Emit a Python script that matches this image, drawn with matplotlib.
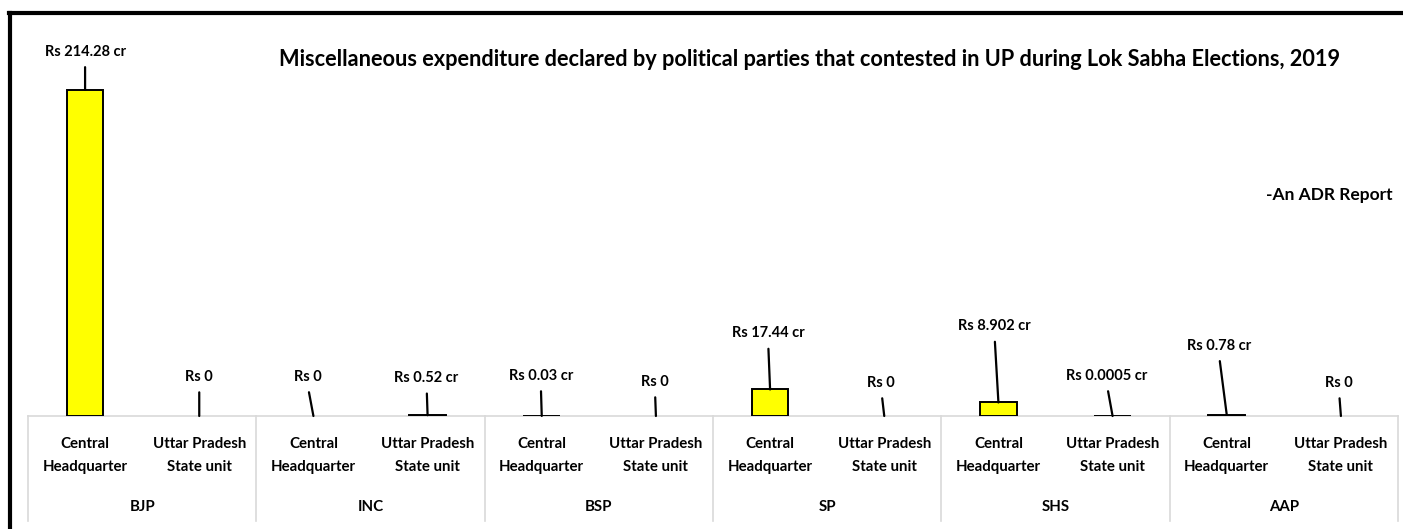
import matplotlib.pyplot as plt
from matplotlib.lines import Line2D

# data
parties = ['BJP', 'INC', 'BSP', 'SP', 'SHS', 'AAP']
units = ['Central\nHeadquarter', 'Uttar Pradesh\nState unit']
values = [214.28, 0, 0, 0.52, 0.03, 0, 17.44, 0, 8.902, 0.0005, 0.78, 0]
value_labels = ['Rs 214.28 cr', 'Rs 0', 'Rs 0', 'Rs 0.52 cr', 'Rs 0.03 cr', 'Rs 0',
                'Rs 17.44 cr', 'Rs 0', 'Rs 8.902 cr', 'Rs 0.0005 cr', 'Rs 0.78 cr', 'Rs 0']

# label offsets in pixels (dx, dy) from the top of each bar
label_offsets = [(0, 38), (0, 39), (-6, 39), (-1, 37), (-1, 40), (-1, 34),
                 (-2, 56), (-3, 33), (-4, 76), (-6, 40), (-8, 69), (-2, 33)]

plt.rcParams['font.family'] = ['Lato', 'DejaVu Sans']

W, H = 1403, 529
fig = plt.figure(figsize=(W / 100, H / 100), dpi=100)
ax = fig.add_axes([28 / W, (H - 416) / H, 1370 / W, (416 - 40) / H])

x = list(range(len(values)))
colors = ['yellow' if v > 0 else 'none' for v in values]
edges = ['black' if v > 0 else 'none' for v in values]
ax.bar(x, values, width=0.32, color=colors, edgecolor=edges, linewidth=1.4, zorder=3)

for i, (v, lab, off) in enumerate(zip(values, value_labels, label_offsets)):
    ax.annotate(lab, xy=(i, v), xytext=off, textcoords='offset pixels',
                ha='center', va='center', fontsize=10.5, fontweight='bold',
                arrowprops=dict(arrowstyle='-', color='black', lw=1.6,
                                relpos=(0.5, 0), shrinkA=4, shrinkB=0))

ax.set_xlim(-0.5, len(values) - 0.5)
ax.set_ylim(0, 247)
ax.set_yticks([])
ax.set_xticks(x)
ax.set_xticklabels(units * len(parties), fontsize=10.8, fontweight='bold', linespacing=1.85)
ax.tick_params(axis='x', length=0, pad=15)
for s in ['top', 'right', 'left']:
    ax.spines[s].set_visible(False)
ax.spines['bottom'].set_color('#d9d9d9')
ax.spines['bottom'].set_linewidth(1.2)

trans = ax.get_xaxis_transform()
for k in range(len(parties) + 1):
    ax.plot([2 * k - 0.5, 2 * k - 0.5], [0, -0.28], color='#d9d9d9', lw=1.2,
            transform=trans, clip_on=False)
for k, p in enumerate(parties):
    ax.text(2 * k + 0.5, -0.242, p, transform=trans, ha='center', va='center',
            fontsize=10.8, fontweight='bold')

fig.text(810 / W, 1 - 60 / H,
         'Miscellaneous expenditure declared by political parties that contested in UP during Lok Sabha Elections, 2019',
         ha='center', va='center', fontsize=15.7, fontweight='bold')
fig.text(1393 / W, 1 - 195 / H, '-An ADR Report', ha='right', va='center',
         fontsize=12.5, fontweight='bold')

# outer frame (top and left edges)
fig.add_artist(Line2D([9 / W, 1], [1 - 13 / H, 1 - 13 / H], color='black', lw=3, transform=fig.transFigure))
fig.add_artist(Line2D([10 / W, 10 / W], [0, 1 - 13 / H], color='black', lw=3, transform=fig.transFigure))

fig.savefig('out.png', dpi=100)
